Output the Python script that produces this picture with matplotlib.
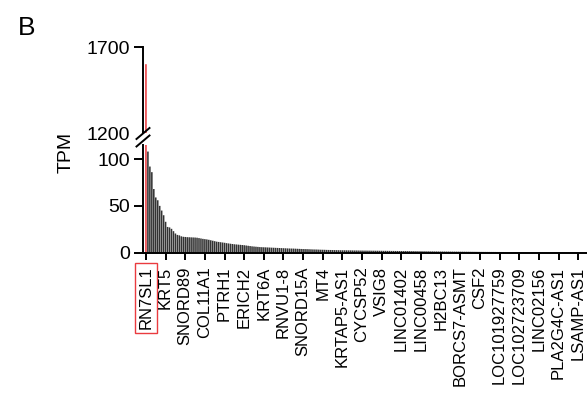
import matplotlib
matplotlib.use("Agg")
import matplotlib.pyplot as plt
from matplotlib.lines import Line2D

plt.rcParams['font.family'] = ['Liberation Sans', 'DejaVu Sans']

# TPM per gene, sorted high to low (first bar = RN7SL1)
tpm = [
    1600,
    108, 92, 86, 68, 59, 56, 50, 45, 40, 33,
    27.5, 27, 25.5, 23, 20.5, 19, 18.5, 17.5, 17, 16.8,
    16.6, 16.5, 16.4, 16.3, 16.2, 16.0, 15.6, 15.2, 14.8, 14.5,
    14.2, 13.8, 13.3, 12.8, 12.3, 11.8, 11.5, 11.2, 10.9, 10.6,
    10.2, 9.9, 9.6, 9.3, 9.0, 8.8, 8.6, 8.4, 8.2, 8.0,
    7.7, 7.4, 7.1, 6.8, 6.6, 6.4, 6.2, 6.0, 5.9, 5.8,
    5.7, 5.6, 5.5, 5.4, 5.3, 5.2, 5.1, 5.0, 4.9, 4.8,
    4.7, 4.6, 4.5, 4.45, 4.4, 4.3, 4.2, 4.1, 4.0, 3.9,
    3.85, 3.8, 3.7, 3.6, 3.5, 3.45, 3.4, 3.3, 3.2, 3.15,
    3.1, 3.0, 2.95, 2.9, 2.85, 2.8, 2.75, 2.7, 2.65, 2.6,
    2.6, 2.55, 2.5, 2.5, 2.45, 2.4, 2.4, 2.35, 2.3, 2.3,
    2.25, 2.25, 2.2, 2.2, 2.15, 2.15, 2.1, 2.1, 2.05, 2.05,
    2.0, 2.0, 1.95, 1.95, 1.9, 1.9, 1.85, 1.85, 1.8, 1.8,
    1.75, 1.75, 1.7, 1.7, 1.65, 1.65, 1.6, 1.6, 1.55, 1.55,
    1.5, 1.5, 1.45, 1.45, 1.4, 1.4, 1.35, 1.35, 1.3, 1.3,
    1.28, 1.26, 1.24, 1.22, 1.2, 1.18, 1.16, 1.14, 1.12, 1.1,
    1.08, 1.06, 1.04, 1.02, 1.0, 0.98, 0.96, 0.94, 0.92, 0.9,
    0.88, 0.86, 0.85, 0.84, 0.83, 0.82, 0.81, 0.8, 0.79, 0.78,
    0.77, 0.76, 0.75, 0.74, 0.73, 0.72, 0.71, 0.7, 0.69, 0.68,
    0.67, 0.66, 0.65, 0.64, 0.63, 0.62, 0.61, 0.6, 0.59, 0.58,
    0.57, 0.56, 0.55, 0.54, 0.53, 0.52, 0.51, 0.5, 0.49, 0.48,
    0.47, 0.46, 0.45, 0.44, 0.43, 0.42, 0.41, 0.4, 0.39, 0.38,
    0.37, 0.36, 0.35, 0.34,
]

# every 10th gene is labelled
gene_labels = [
    "RN7SL1", "KRT5", "SNORD89", "COL11A1", "PTRH1", "ERICH2", "KRT6A",
    "RNVU1-8", "SNORD15A", "MT4", "KRTAP5-AS1", "CYCSP52", "VSIG8",
    "LINC01402", "LINC00458", "H2BC13", "BORCS7-ASMT", "CSF2",
    "LOC101927759", "LOC102723709", "LINC02156", "PLA2G4C-AS1", "LSAMP-AS1",
]
label_step = 10

RED = "#ea3b3f"
DARK = "#333333"

W, H = 587, 394
fig = plt.figure(figsize=(W / 100, H / 100), dpi=100)

left = 143 / W
width = 1 - left
ax_bot = fig.add_axes([left, 1 - 252.7 / H, width, (252.7 - 145) / H])
ax_top = fig.add_axes([left, 1 - 133 / H, width, (133 - 47) / H])

x = list(range(len(tpm)))
colors = [RED] + [DARK] * (len(tpm) - 1)
for ax in (ax_bot, ax_top):
    bars = ax.bar(x, tpm, width=0.8, color=colors, linewidth=0)
    for b in bars:
        b.set_snap(False)
    ax.set_xlim(-1.5, len(tpm) - 0.5)
    ax.spines['top'].set_visible(False)
    ax.spines['right'].set_visible(False)
    ax.spines['left'].set_linewidth(1.4)
    ax.tick_params(axis='y', length=6.5, width=1.4, labelsize=14, pad=3)

ax_bot.set_ylim(0, 115)
ax_bot.set_yticks([0, 50, 100])
ax_bot.spines['bottom'].set_linewidth(1.4)
tick_pos = list(range(0, len(gene_labels) * label_step, label_step))
ax_bot.set_xticks(tick_pos)
ax_bot.set_xticklabels(gene_labels, rotation=90, fontsize=12)
ax_bot.tick_params(axis='x', length=5, width=1.4, pad=5)
ax_bot.set_ylabel("TPM", fontsize=14)
ax_bot.yaxis.set_label_coords(-0.153, 0.935)

ax_top.set_ylim(1200, 1700)
ax_top.set_yticks([1200, 1700])
ax_top.spines['bottom'].set_visible(False)
ax_top.set_xticks([])
ax_top.yaxis.get_major_ticks()[0].tick1line.set_visible(False)

# red box around the first label
first = ax_bot.get_xticklabels()[0]
first.set_bbox(dict(facecolor='none', edgecolor=RED, linewidth=1.0, pad=2.5))

# axis break marks
def px(xp, yp):
    return xp / W, 1 - yp / H

for y0 in (139, 146.5):
    (x1, y1), (x2, y2) = px(136.5, y0), px(149.5, y0 - 11)
    fig.add_artist(Line2D([x1, x2], [y1, y2], color='black', linewidth=1.4))

fig.text(18 / W, 1 - 28 / H, "B", fontsize=19, ha='left', va='center')

fig.savefig("out.png", dpi=100)
